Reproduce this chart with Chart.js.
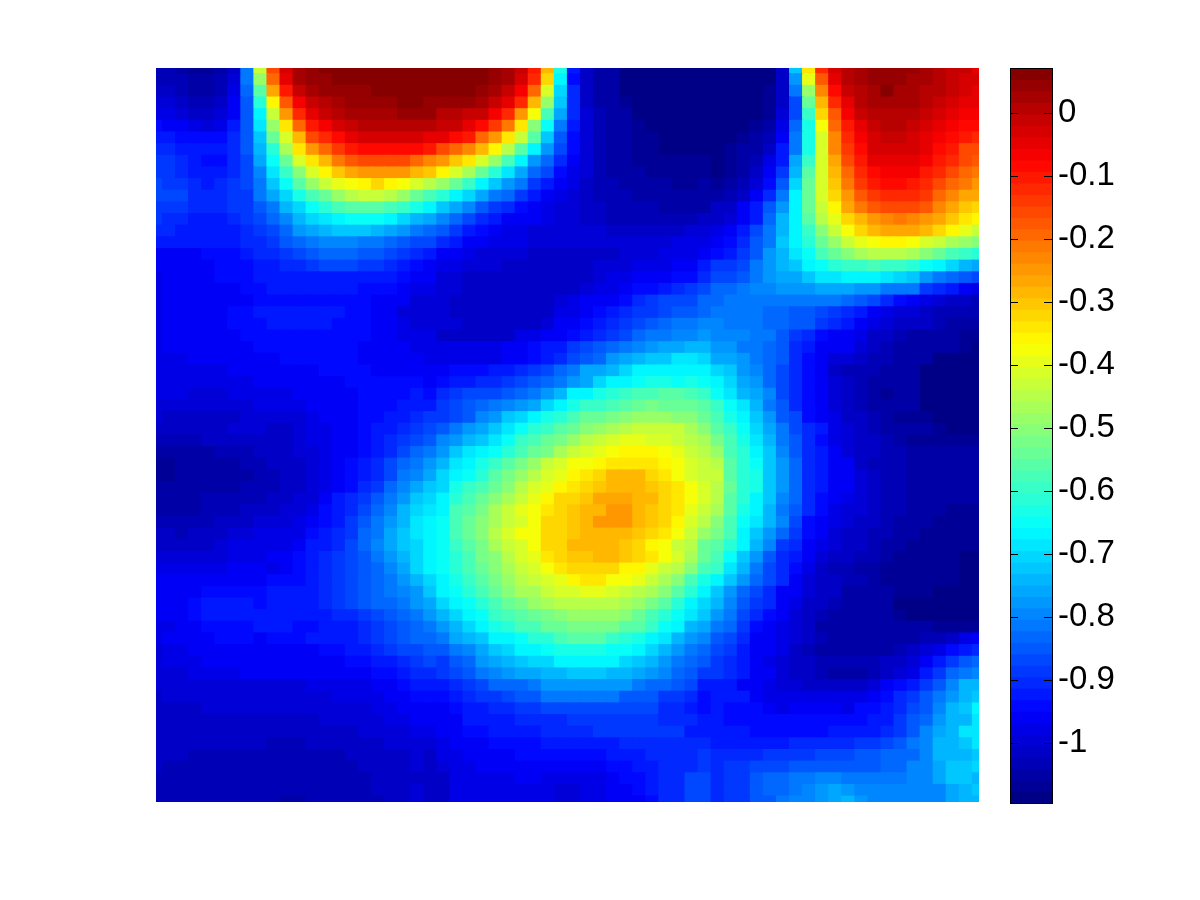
<!DOCTYPE html>
<html>
<head>
<meta charset="utf-8">
<title>Heat map</title>
<script src="https://cdn.jsdelivr.net/npm/chart.js@4/dist/chart.umd.min.js"></script>
<style>
    body { margin: 0; background: #fff; }
    canvas { position: absolute; top: 0; }
    #heatChart { left: 0; }
    #barChart { left: 1000px; }
</style>
</head>
<body>
<canvas id="heatChart" width="1200" height="900"></canvas>
<canvas id="barChart" width="200" height="900"></canvas>
<script>
// colour scale limits
const colorMin = -1.0945;
const colorMax = 0.071;
const tickValues = [0, -0.1, -0.2, -0.3, -0.4, -0.5, -0.6, -0.7, -0.8, -0.9, -1];
const tickLabels = ['0', '-0.1', '-0.2', '-0.3', '-0.4', '-0.5', '-0.6', '-0.7', '-0.8', '-0.9', '-1'];

// colormap level (1-64) of every cell, top row first
const heatLevels = [
[4,4,3,2,2,3,5,16,37,52,59,62,63,64,64,64,64,64,64,64,64,64, 64,64,64,64,63,62,60,55,45,26,10,5,3,3,1,1,1,1,1,1,1, 1,1,1,1,1,5,21,42,54,59,61,62,63,63,63,63,62,61,60,60,58],
[4,4,4,3,3,4,6,16,34,50,58,62,63,63,64,64,64,64,64,64,64,64, 64,64,64,64,63,62,59,54,43,24,9,5,3,3,1,1,1,1,1,1,1, 1,1,1,1,1,5,18,39,51,58,61,62,63,63,63,62,62,61,60,59,59],
[5,5,4,3,3,4,7,15,30,46,55,60,62,63,63,63,63,64,64,64,64,64, 64,64,64,63,62,60,57,50,38,22,11,5,3,3,1,1,1,1,1,1,1, 1,1,1,1,2,5,16,34,48,56,60,61,62,64,62,62,61,61,60,59,58],
[6,6,5,4,4,5,8,14,27,41,51,57,60,61,62,63,63,63,63,64,64,63, 63,63,63,62,60,58,54,45,34,21,11,5,3,3,2,1,1,1,1,1,1, 1,1,1,1,2,5,13,31,45,54,58,61,62,62,62,62,61,60,59,58,58],
[7,7,6,5,5,6,8,14,24,37,47,54,58,60,61,62,62,62,62,63,63,63, 61,61,60,60,57,54,47,40,29,19,11,6,4,3,3,1,1,1,1,1,1, 1,1,1,1,2,6,13,28,43,51,57,60,61,61,61,61,60,59,58,57,57],
[9,8,8,7,6,7,10,14,23,34,42,50,55,57,59,60,61,61,61,61,61,61, 60,60,58,56,53,49,42,33,25,16,10,6,4,3,3,2,1,1,1,1,1, 1,1,1,2,3,7,15,26,40,50,55,58,60,61,61,60,59,58,57,56,56],
[10,10,9,9,9,9,11,14,21,31,38,45,52,54,56,58,59,59,59,59,59,58, 58,56,55,50,47,42,37,30,21,14,9,6,4,3,3,2,2,1,1,1,1, 1,1,2,3,4,8,16,26,38,48,54,57,59,60,60,59,58,57,56,55,54],
[11,11,10,10,10,10,11,14,20,27,35,42,47,50,53,55,56,56,56,56,56,55, 52,50,48,45,41,36,30,24,18,13,9,6,4,3,3,2,2,1,1,1,1, 1,2,3,3,5,10,16,26,38,48,53,56,59,59,59,59,58,56,55,52,52],
[12,12,11,10,9,9,11,13,19,25,31,38,42,45,49,51,52,52,52,52,50,48, 47,44,42,38,34,29,24,18,15,11,8,6,4,3,3,2,2,2,2,2,2, 1,2,3,4,7,10,19,28,38,46,52,55,58,58,58,58,57,55,54,52,51],
[12,12,11,10,10,10,11,13,17,23,28,33,38,41,44,46,47,47,47,47,45,44, 41,38,35,31,27,23,19,15,13,9,7,6,4,3,3,3,2,2,2,2,2, 1,2,3,5,8,12,20,30,38,45,50,54,56,57,57,57,55,54,52,50,49],
[13,12,12,11,10,11,12,13,16,21,25,30,34,37,39,40,41,43,41,40,38,36, 34,31,28,24,21,18,16,12,10,8,7,5,4,4,3,3,3,3,2,2,3, 2,3,4,6,9,14,22,31,38,44,49,53,55,56,56,55,54,52,50,49,47],
[13,13,13,11,11,11,12,12,16,19,22,26,29,31,34,36,37,37,36,34,31,29, 27,24,22,19,16,15,12,10,8,7,6,5,4,4,4,3,3,3,3,3,3, 3,4,5,8,11,16,24,31,38,43,47,51,53,54,54,54,53,50,48,46,46],
[12,12,12,11,11,11,12,12,14,16,20,22,25,27,29,30,30,30,29,28,26,24, 21,19,17,14,12,11,9,8,7,6,6,5,5,4,4,4,4,3,3,3,3, 5,5,8,10,14,18,24,31,37,41,46,49,51,52,52,52,51,48,46,44,43],
[12,11,11,10,10,10,11,12,13,15,17,20,22,23,24,25,25,25,24,22,20,19, 17,15,13,11,10,8,8,8,7,6,6,5,5,4,4,4,4,4,4,4,5, 5,6,8,10,15,20,24,30,36,39,43,45,47,48,49,48,47,46,44,42,41],
[11,11,10,10,10,10,10,11,12,13,15,18,19,20,21,21,21,20,19,18,16,15, 14,12,10,9,8,7,7,6,6,6,6,6,6,5,5,5,5,5,5,6,6, 7,8,10,13,16,20,24,28,33,37,40,43,45,46,46,46,45,43,41,39,37],
[10,10,10,10,10,10,10,11,11,12,14,15,16,17,17,17,16,16,15,14,13,13, 11,10,8,8,7,7,7,6,6,6,6,6,6,6,6,6,6,6,7,7,7, 8,9,11,14,16,21,24,27,31,34,37,39,40,41,41,40,38,37,35,34,33],
[8,8,8,8,9,9,9,10,11,11,12,13,14,15,15,15,14,14,13,12,11,10, 8,8,7,6,6,6,6,5,5,5,5,5,5,5,6,6,6,7,7,7,8, 9,10,12,14,18,20,23,25,29,31,33,35,36,36,36,35,33,31,29,28,27],
[8,8,8,8,8,9,9,9,10,10,11,11,12,13,13,13,12,12,11,10,9,8, 7,7,6,6,6,5,5,5,5,5,5,5,6,6,6,7,7,7,8,8,10, 12,12,13,16,18,20,21,24,25,27,28,28,29,28,28,27,25,24,22,20,19],
[7,8,8,8,8,9,9,9,10,10,10,10,10,10,10,10,10,10,10,9,8,8, 6,6,5,5,5,5,5,5,5,5,5,5,6,7,7,8,8,8,9,9,11, 13,13,14,16,18,19,19,21,23,23,24,24,24,23,22,21,18,16,15,14,13],
[7,8,8,8,8,8,8,9,9,10,10,10,10,10,10,10,9,9,9,8,7,7, 6,6,5,5,5,5,5,5,5,5,5,6,7,7,8,9,9,10,11,12,13, 15,15,16,17,17,18,18,18,19,19,19,18,18,16,16,16,12,11,10,8,7],
[7,8,8,8,8,8,8,8,9,9,9,9,9,9,9,9,9,8,8,8,6,6, 6,5,5,5,5,5,5,5,5,6,7,8,8,8,9,11,12,13,13,13,15, 15,16,16,16,16,16,16,16,16,16,15,14,13,11,9,8,7,6,5,5,4],
[7,8,8,8,8,8,9,9,10,10,10,10,10,10,10,9,9,8,8,6,6,6, 6,5,5,5,5,5,5,5,5,7,7,8,9,10,11,12,12,13,14,14,15, 16,16,16,16,15,15,14,14,13,12,11,10,8,7,6,6,5,4,4,4,4],
[7,8,8,8,8,8,9,9,9,10,10,10,10,10,9,9,9,8,8,7,6,6, 6,6,5,5,5,5,5,5,6,8,8,9,10,11,12,13,14,15,16,16,17, 17,16,16,16,15,15,14,14,12,11,10,8,7,6,5,5,5,4,3,3,3],
[7,8,8,8,8,8,8,9,9,9,9,9,9,9,9,9,9,8,8,7,7,7, 5,5,5,5,5,5,7,7,8,8,9,10,11,12,13,15,16,16,17,17,18, 17,17,17,16,16,14,12,11,9,8,8,7,5,5,4,3,3,3,3,2,2],
[7,8,8,8,8,8,8,8,9,9,9,9,9,9,9,9,8,8,8,8,7,7, 7,7,7,7,7,8,8,9,10,10,12,13,14,15,16,17,18,19,19,20,20, 18,18,16,16,15,14,11,10,8,8,8,6,5,4,3,3,3,3,3,2,1],
[7,7,7,8,8,8,8,8,8,8,9,9,9,9,9,9,8,8,8,8,8,7, 7,7,7,7,7,8,8,9,10,11,13,14,15,18,19,20,21,21,23,23,22, 19,19,18,16,15,14,11,9,8,6,6,5,4,4,3,3,3,1,1,1,1],
[7,7,7,7,7,7,8,8,8,8,8,8,8,9,9,9,9,8,8,8,8,8, 8,9,9,9,10,10,11,12,13,15,16,19,19,20,22,24,24,24,24,24,24, 22,21,18,17,15,13,11,9,8,5,4,4,4,3,3,3,1,1,1,1,1],
[7,7,7,7,7,7,7,7,8,8,8,8,8,8,8,9,9,9,9,9,9,8, 9,10,10,11,11,12,13,14,15,16,18,19,22,24,24,25,26,26,25,26,25, 24,22,19,18,15,13,11,9,8,6,5,4,3,3,3,3,1,1,1,1,1],
[7,7,7,6,6,6,7,7,7,7,7,8,8,8,8,8,9,9,9,9,10,9, 11,12,13,13,13,14,15,16,18,20,24,24,26,27,28,29,29,30,30,29,28, 25,23,20,19,17,13,11,9,8,6,5,4,3,2,3,3,1,1,1,1,1],
[6,6,6,6,6,6,6,6,7,7,7,7,8,8,8,8,9,9,9,10,10,10, 12,13,14,15,16,17,18,19,22,24,26,28,28,29,30,31,32,31,31,31,30, 28,25,23,20,16,14,11,9,8,6,5,4,3,3,3,3,1,1,1,1,1],
[6,5,5,5,5,5,5,6,6,6,6,6,7,8,8,8,9,9,10,10,11,12, 12,13,14,17,18,21,22,24,26,27,29,31,31,32,33,34,34,34,33,33,31, 29,26,24,21,18,14,13,9,8,7,5,5,4,3,2,2,2,1,1,1,1],
[5,5,5,5,5,5,6,6,6,5,5,6,7,7,8,8,9,10,10,11,12,13, 14,16,18,19,21,23,25,27,28,30,31,33,34,35,36,37,37,37,37,35,33, 30,28,25,22,19,16,13,11,10,7,6,5,4,3,3,3,3,2,1,1,1],
[4,4,4,4,5,5,5,5,5,5,5,6,7,7,8,8,9,10,11,12,13,14, 17,18,20,21,23,25,28,29,31,32,34,36,37,38,39,39,38,38,37,36,35, 32,29,26,23,20,16,14,11,9,7,6,5,5,4,3,2,2,2,2,2,2],
[3,3,3,3,3,4,4,4,5,5,5,6,6,7,8,8,9,10,11,13,15,16, 18,21,23,24,25,27,29,31,32,35,37,38,39,40,41,41,41,40,39,37,36, 34,29,27,24,21,17,14,11,10,8,6,5,5,4,4,3,3,3,3,3,3],
[2,2,3,3,3,3,3,4,4,5,5,5,6,7,8,9,10,11,13,15,16,18, 20,23,24,26,28,30,32,34,37,38,40,40,41,42,42,42,42,41,40,38,37, 36,30,27,25,21,18,15,11,10,8,8,5,4,4,4,3,3,3,3,3,3],
[2,2,3,3,3,3,3,3,4,4,5,5,6,7,8,9,10,11,13,16,17,19, 22,24,25,27,30,32,34,36,38,39,41,42,43,45,45,45,43,42,40,38,37, 37,30,27,26,21,18,15,11,10,8,8,6,5,4,4,3,3,3,3,3,3],
[3,3,3,3,3,3,3,4,4,4,5,5,6,7,8,9,11,12,15,17,19,21, 22,26,28,29,31,33,36,38,39,41,42,43,44,45,45,45,44,43,42,40,38, 36,31,27,26,21,18,15,11,10,8,8,6,5,4,4,3,3,3,3,3,3],
[3,3,3,3,4,4,4,4,4,5,5,6,6,8,10,11,12,14,16,18,21,22, 24,27,29,31,33,35,37,39,41,43,43,44,46,46,46,45,45,43,42,40,38, 36,30,27,24,21,17,15,11,9,8,7,6,5,4,4,3,3,3,3,3,3],
[3,3,3,3,4,4,4,5,5,5,6,6,7,9,10,11,13,15,17,20,22,23, 24,29,30,32,35,37,39,40,42,43,44,45,45,47,47,45,44,43,42,39,37, 35,30,26,24,20,16,14,11,9,7,6,6,5,4,4,3,3,3,2,2,2],
[4,4,4,4,4,5,5,5,6,6,6,7,8,9,10,12,14,16,18,20,23,24, 25,29,31,33,35,37,38,40,43,43,44,45,47,47,47,45,44,43,41,38,36, 33,29,25,23,20,17,13,9,8,7,6,5,5,4,3,3,3,2,2,2,2],
[5,5,4,5,5,5,6,6,7,7,7,7,9,10,11,12,15,16,19,21,23,24, 25,29,31,33,36,38,40,40,43,43,44,45,45,45,45,44,43,42,40,37,34, 32,29,24,21,18,15,12,9,8,6,5,5,4,4,3,3,2,2,2,2,2],
[5,5,5,5,5,6,7,7,7,7,7,8,10,10,11,13,15,17,19,21,22,24, 25,28,30,32,35,37,38,40,43,43,45,45,45,45,44,43,41,40,37,36,31, 30,27,24,20,17,12,11,8,7,6,5,5,4,3,3,2,2,2,2,2,2],
[6,6,6,6,6,6,7,7,7,8,8,9,10,11,12,13,14,16,18,20,22,24, 25,27,29,32,33,36,38,39,42,43,44,44,45,45,44,43,42,40,38,35,31, 29,25,21,18,14,11,10,8,6,5,5,4,4,3,2,2,2,2,2,1,1],
[7,7,7,7,7,7,8,8,8,7,8,9,10,11,12,13,14,15,17,19,22,24, 25,27,29,31,33,35,37,38,40,42,43,43,43,43,41,41,39,37,36,33,29, 28,23,20,16,13,11,9,7,5,4,4,3,3,2,2,2,2,2,2,1,1],
[8,8,8,8,8,8,8,8,8,9,9,9,10,11,12,13,14,15,16,18,20,22, 24,26,28,30,32,34,36,37,38,39,41,42,42,40,40,39,37,35,33,29,26, 24,21,18,15,13,11,8,6,5,5,4,4,3,2,2,2,2,2,2,1,1],
[8,8,8,8,9,9,9,9,9,10,10,10,10,11,12,13,14,15,16,17,18,21, 24,25,27,29,31,33,35,35,37,38,38,39,39,38,37,36,35,33,30,27,24, 21,18,15,13,11,8,8,6,5,5,3,3,3,3,2,2,2,1,1,1,1],
[8,8,8,9,10,10,10,10,9,10,10,10,10,11,12,13,14,15,15,16,18,19, 22,24,25,27,29,31,32,34,35,36,36,36,36,36,35,34,32,30,27,24,22, 20,17,14,12,11,8,7,5,5,4,3,3,3,3,1,1,1,1,1,1,1],
[8,8,8,9,10,10,10,10,10,10,10,10,10,10,11,11,12,13,14,15,16,18, 20,22,24,25,28,29,30,31,32,33,34,34,34,34,33,31,29,27,25,23,21, 18,16,13,11,9,8,6,5,4,3,3,3,3,3,2,1,1,1,1,1,1],
[7,7,8,8,9,9,9,9,10,10,10,9,9,10,10,10,11,12,13,14,15,16, 18,20,22,24,26,27,29,29,31,31,32,32,32,32,30,30,28,25,24,20,19, 16,15,12,9,8,7,6,5,3,3,3,3,3,3,3,3,3,2,2,2,2],
[7,8,8,8,8,9,9,9,8,9,9,9,10,10,10,10,11,12,13,14,15,15, 16,19,20,21,24,24,25,27,27,29,30,30,30,28,27,26,24,23,20,18,17, 14,13,11,8,8,7,6,5,4,3,3,3,3,3,3,3,4,4,5,7,8],
[6,7,7,8,8,8,8,8,8,8,8,8,8,9,9,10,10,11,12,13,13,14, 14,16,17,19,21,22,24,24,25,26,26,26,26,25,25,24,22,20,18,16,15, 13,12,10,8,8,7,5,4,3,3,3,3,3,3,4,5,6,7,9,10,11],
[6,7,7,7,8,8,8,8,8,8,8,8,8,8,8,9,9,10,10,11,12,13, 12,14,15,18,19,20,21,22,22,24,24,24,24,24,22,21,20,18,16,15,14, 12,11,10,8,7,6,5,5,4,4,4,4,4,5,5,6,8,10,12,14,15],
[6,6,6,7,7,7,7,8,8,8,8,8,8,8,8,8,8,9,9,10,11,11, 12,13,14,16,17,18,19,19,20,20,21,21,21,20,20,19,18,17,15,14,12, 12,11,10,8,8,6,5,5,4,3,3,3,4,5,6,7,10,12,15,16,17],
[6,6,6,6,6,6,6,6,6,6,6,6,7,7,7,7,7,8,8,9,10,10, 10,11,12,13,15,15,15,16,18,18,18,18,18,18,18,16,15,15,14,13,10, 10,10,8,8,7,6,6,5,5,5,5,5,6,8,9,10,12,14,17,20,20],
[5,6,6,6,6,6,6,6,6,6,6,6,6,6,7,7,7,7,8,8,9,9, 9,10,11,12,12,13,14,14,16,16,16,16,16,16,14,14,14,12,12,11,9, 10,10,10,8,7,7,7,7,7,7,7,7,8,9,11,12,14,16,18,20,21],
[5,5,5,5,6,6,6,6,6,6,6,6,6,6,6,6,6,7,7,8,8,8, 8,9,10,10,11,11,12,12,13,13,13,13,13,13,13,13,13,11,11,10,9, 10,9,9,9,8,7,8,8,8,8,7,9,9,10,11,13,14,17,20,21,24],
[5,5,5,5,5,5,5,5,5,5,5,5,5,6,6,6,6,6,7,7,8,8, 8,8,10,10,10,10,11,11,11,11,12,12,12,12,12,12,12,11,11,11,10, 10,9,9,9,9,9,9,9,9,9,9,9,10,10,12,14,15,18,20,20,23],
[5,5,5,5,5,5,5,5,5,5,5,5,5,5,5,5,6,6,6,6,7,7, 8,8,9,9,10,10,10,10,11,11,11,11,12,12,12,12,12,12,12,10,10, 10,10,10,9,9,9,9,9,9,10,10,10,10,11,12,14,17,19,20,23,23],
[5,5,5,5,5,5,5,5,5,4,4,4,5,5,5,5,5,5,6,6,6,6, 7,8,8,8,9,9,9,9,10,10,10,10,10,10,11,11,11,11,11,11,11, 10,10,10,10,10,10,11,11,11,11,11,12,12,13,14,16,17,20,20,21,23],
[5,5,5,4,4,4,4,4,4,4,4,4,4,4,4,5,5,5,5,5,6,5, 7,7,8,8,8,8,9,9,9,9,9,9,9,10,10,10,11,11,11,11,12, 11,11,11,11,12,12,12,12,13,13,13,14,14,15,15,15,17,20,20,20,21],
[5,4,4,4,4,4,4,4,4,4,4,4,4,4,4,4,5,5,5,5,6,5, 6,7,7,8,8,8,8,8,8,8,8,8,8,9,9,10,10,11,11,11,12, 11,12,12,13,13,13,14,14,14,14,14,14,14,15,15,17,17,19,21,21,22],
[4,4,4,4,4,4,4,4,4,4,4,4,4,4,4,4,4,5,5,5,5,5, 5,7,7,7,7,7,8,8,7,7,7,7,7,8,9,9,10,11,11,13,13, 11,12,12,14,15,15,16,16,17,17,16,16,16,16,16,17,17,19,21,21,20],
[4,4,4,4,4,4,4,4,4,4,4,4,4,4,4,4,4,5,5,5,6,5, 5,7,7,7,7,7,7,7,7,6,6,7,7,8,8,9,10,11,11,13,13, 11,12,12,14,15,15,16,17,18,19,18,17,17,17,17,17,17,17,19,20,21],
[4,4,4,4,4,4,4,4,4,4,3,3,4,4,4,4,4,4,5,5,6,5, 5,7,7,7,7,7,7,7,7,6,6,7,7,8,8,8,9,11,11,13,13, 11,12,12,14,14,16,17,17,18,19,20,18,17,17,17,17,17,17,19,20,20]
];

// MATLAB style jet colormap, level 1 is dark blue and 64 dark red
function jetColor(level) {
    const t = (level - 0.5) / 64 * 4;
    const channel = function (offset) {
        return Math.round(255 * Math.max(0, Math.min(1, Math.min(t - offset + 1.5, -t + offset + 1.5))));
    };
    return 'rgb(' + channel(3) + ',' + channel(2) + ',' + channel(1) + ')';
}

const heatCells = [];
const heatColors = [];
heatLevels.forEach(function (row, rowIndex) {
    row.forEach(function (level, colIndex) {
        heatCells.push({ x: colIndex, y: [rowIndex - 0.5, rowIndex + 0.5] });
        heatColors.push(jetColor(level));
    });
});

new Chart(document.getElementById('heatChart'), {
    type: 'bar',
    data: {
        datasets: [{
            data: heatCells,
            backgroundColor: heatColors,
            borderWidth: 0,
            inflateAmount: 0.6,
            categoryPercentage: 1,
            barPercentage: 1
        }]
    },
    options: {
        responsive: false,
        animation: false,
        events: [],
        layout: { padding: { left: 156, right: 221, top: 68, bottom: 98 } },
        plugins: { legend: { display: false }, tooltip: { enabled: false } },
        scales: {
            x: { type: 'linear', min: 0, max: 63, offset: false, display: false },
            y: { type: 'linear', min: 0, max: 63, reverse: true, display: false }
        }
    }
});

const barLevels = [];
for (let i = 1; i <= 64; i++) {
    barLevels.push(i);
}
const levelStep = (colorMax - colorMin) / 64;

// frame and the small inner ticks of the colour bar
const barFrame = {
    id: 'barFrame',
    afterDraw: function (chart) {
        const ctx = chart.ctx;
        const area = chart.chartArea;
        ctx.save();
        ctx.strokeStyle = '#000';
        ctx.lineWidth = 1;
        ctx.strokeRect(area.left + 0.5, area.top + 0.5, area.right - area.left, area.bottom - area.top);
        tickValues.forEach(function (value) {
            const y = Math.round(chart.scales.y.getPixelForValue(value)) + 0.5;
            ctx.beginPath();
            ctx.moveTo(area.left, y);
            ctx.lineTo(area.left + 8, y);
            ctx.moveTo(area.right - 8, y);
            ctx.lineTo(area.right, y);
            ctx.stroke();
        });
        ctx.restore();
    }
};

new Chart(document.getElementById('barChart'), {
    type: 'bar',
    data: {
        labels: ['bar'],
        datasets: [{
            data: barLevels.map(function (level) {
                return { x: 'bar', y: [colorMin + (level - 1) * levelStep, colorMin + level * levelStep] };
            }),
            backgroundColor: barLevels.map(jetColor),
            borderWidth: 0,
            inflateAmount: 0.6,
            categoryPercentage: 1,
            barPercentage: 1
        }]
    },
    options: {
        responsive: false,
        animation: false,
        events: [],
        layout: { padding: { left: 10, right: 0, top: 68, bottom: 97 } },
        plugins: { legend: { display: false }, tooltip: { enabled: false } },
        scales: {
            x: { display: false },
            y: {
                type: 'linear',
                position: 'right',
                min: colorMin,
                max: colorMax,
                grid: { display: false, drawTicks: false },
                border: { display: false },
                afterBuildTicks: function (axis) {
                    axis.ticks = tickValues.map(function (value) {
                        return { value: value };
                    });
                },
                afterFit: function (axis) {
                    axis.width = 148;
                },
                ticks: {
                    color: '#000',
                    padding: 6,
                    autoSkip: false,
                    font: { family: '"Liberation Sans", Arial, sans-serif', size: 33 },
                    callback: function (value) {
                        return tickLabels[tickValues.indexOf(value)];
                    }
                }
            }
        }
    },
    plugins: [barFrame]
});
</script>
</body>
</html>
